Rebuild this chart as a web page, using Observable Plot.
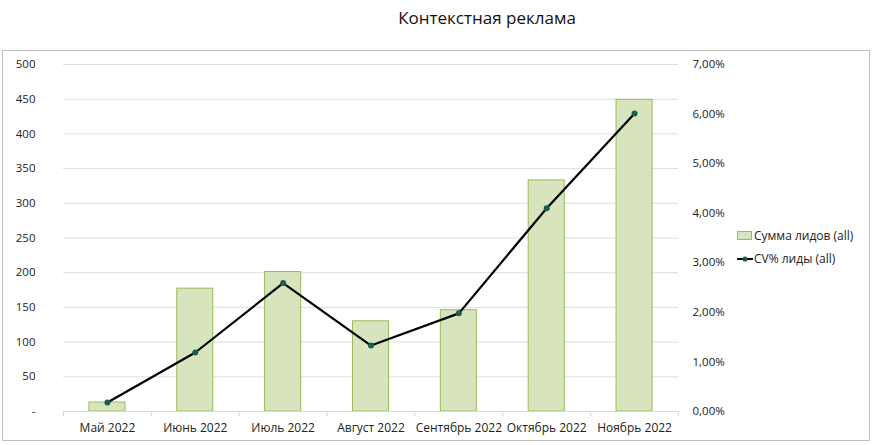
<!DOCTYPE html>
<html>
<head>
<meta charset="utf-8">
<script src="https://cdn.jsdelivr.net/npm/d3@7"></script>
<script src="https://cdn.jsdelivr.net/npm/@observablehq/plot@0.6"></script>
<style>
  body { margin: 0; background: #fff; font-family: "Open Sans", "Noto Sans", sans-serif; }
  #wrap { position: relative; width: 874px; height: 445px; overflow: hidden; }
  #title { position: absolute; left: 0; width: 974px; top: 6px; text-align: center; font-size: 17px; color: #111; }
  #frame { position: absolute; left: 2px; top: 50px; width: 866px; height: 389px; border: 1px solid #bfbfbf; }
  #chart { position: absolute; left: 0; top: 50px; }
  .leg { position: absolute; left: 737px; font-size: 12px; color: #222; display: flex; align-items: center; }
</style>
</head>
<body>
<div id="wrap">
  <div id="title">Контекстная реклама</div>
  <div id="frame"></div>
  <div id="chart"></div>
  <div class="leg" style="top:227px"><span style="display:inline-block;width:13px;height:7px;background:#d7e4bd;border:1px solid #9bbb59;margin-right:2px"></span>Сумма лидов (all)</div>
  <div class="leg" style="top:250px"><svg width="16" height="10" style="margin-right:1px"><line x1="0" y1="5" x2="16" y2="5" stroke="#000" stroke-width="2"/><circle cx="8" cy="5" r="2.6" fill="#17604d"/></svg>CV% лиды (all)</div>
</div>
<script>
const months = ["Май 2022", "Июнь 2022", "Июль 2022", "Август 2022", "Сентябрь 2022", "Октябрь 2022", "Ноябрь 2022"];
const leads = [13, 177, 201, 130, 146, 333, 449];
const cvPct = [0.18, 1.19, 2.59, 1.33, 1.98, 4.10, 6.01];
const leftTicks = [0, 50, 100, 150, 200, 250, 300, 350, 400, 450, 500];
const rightTicks = [0, 1, 2, 3, 4, 5, 6, 7];
const leftMax = 500, rightMax = 7;
const k = leftMax / rightMax;

const rows = months.map((m, i) => ({month: m, leads: leads[i], cv: cvPct[i] * k}));
const step = 615 / months.length;

const chart = Plot.plot({
  width: 740,
  height: 391,
  marginLeft: 63,
  marginRight: 62,
  marginTop: 14,
  marginBottom: 30,
  style: {fontFamily: "'Open Sans', 'Noto Sans', sans-serif", fontSize: "11px", color: "#222", background: "transparent", overflow: "visible"},
  x: {domain: months, paddingInner: 0.59, paddingOuter: 0.295, round: false, label: null},
  y: {domain: [0, leftMax], label: null},
  marks: [
    Plot.ruleY(leftTicks.slice(1), {stroke: "#dedede", strokeWidth: 1}),
    Plot.axisY({ticks: leftTicks, tickSize: 0, tickPadding: 28, tickFormat: d => d === 0 ? "-" : String(d), label: null, fontSize: 11.5}),
    Plot.axisY({anchor: "right", ticks: rightTicks.map(t => t * k), tickSize: 0, tickPadding: 14, label: null, fontSize: 11.5,
      tickFormat: d => (d / k).toFixed(2).replace(".", ",") + "%"}),
    Plot.barY(rows, {x: "month", y: "leads", fill: "#d7e4bd", stroke: "#9bbb59", strokeWidth: 1}),
    Plot.ruleY([0], {stroke: "#d9d9d9", strokeWidth: 1}),
    Plot.ruleX(months, {x: d => d, y1: 0, y2: -7.5, dx: -step / 2, stroke: "#d9d9d9"}),
    Plot.ruleX([months[months.length - 1]], {x: d => d, y1: 0, y2: -7.5, dx: step / 2, stroke: "#d9d9d9"}),
    Plot.axisX({tickSize: 0, tickPadding: 12, label: null, fontSize: 12}),
    Plot.line(rows, {x: "month", y: "cv", stroke: "#000", strokeWidth: 2.2}),
    Plot.dot(rows, {x: "month", y: "cv", r: 3, fill: "#17604d", stroke: "none"})
  ]
});
document.getElementById("chart").appendChild(chart);
</script>
</body>
</html>
